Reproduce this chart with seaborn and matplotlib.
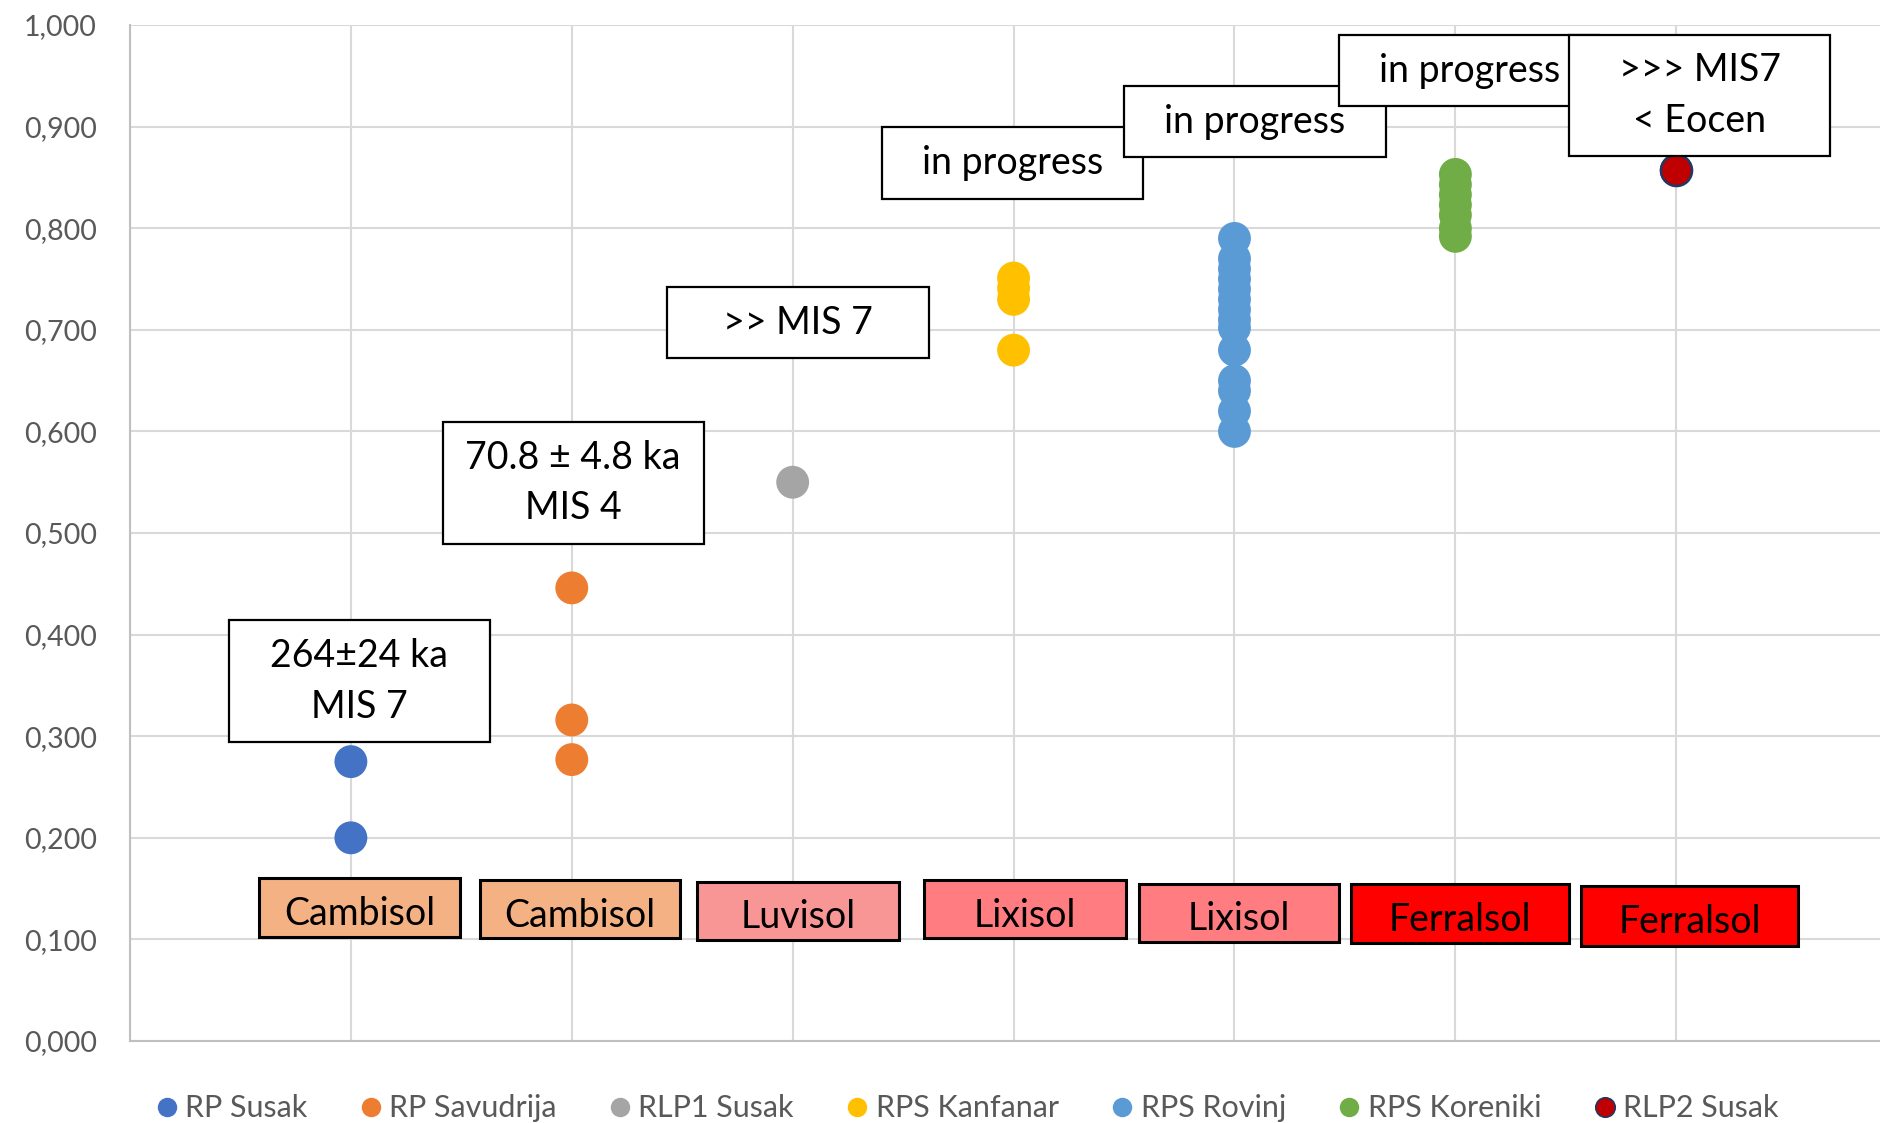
import matplotlib
matplotlib.use("Agg")
import matplotlib.pyplot as plt
from matplotlib.patches import Rectangle
from matplotlib.lines import Line2D
from matplotlib.ticker import FuncFormatter, MultipleLocator
import seaborn as sns
import pandas as pd

# Sites (one column each) and their measured values
series_names = ["RP Susak", "RP Savudrija", "RLP1 Susak", "RPS Kanfanar",
                "RPS Rovinj", "RPS Koreniki", "RLP2 Susak"]
rp_susak = [0.275, 0.200]
rp_savudrija = [0.446, 0.316, 0.277]
rlp1_susak = [0.550]
rps_kanfanar = [0.751, 0.741, 0.730, 0.680]
rps_rovinj = [0.790, 0.770, 0.760, 0.750, 0.740, 0.730, 0.720, 0.710, 0.702,
              0.680, 0.650, 0.640, 0.620, 0.600]
rps_koreniki = [0.853, 0.843, 0.833, 0.823, 0.813, 0.800, 0.792]
rlp2_susak = [0.857]
series_values = [rp_susak, rp_savudrija, rlp1_susak, rps_kanfanar,
                 rps_rovinj, rps_koreniki, rlp2_susak]

series_colors = ["#4472C4", "#ED7D31", "#A5A5A5", "#FFC000",
                 "#5B9BD5", "#70AD47", "#C00000"]

# Soil types under each site
soil_labels = ["Cambisol", "Cambisol", "Luvisol", "Lixisol", "Lixisol",
               "Ferralsol", "Ferralsol"]
soil_colors = ["#F4B183", "#F4B183", "#F89696", "#FF7C80", "#FF7C80",
               "#FF0000", "#FF0000"]

# Dating notes
age_notes = ["264±24 ka\nMIS 7", "70.8 ± 4.8 ka\nMIS 4", ">> MIS 7",
             "in progress", "in progress", "in progress", ">>> MIS7\n< Eocen"]

rows = []
for i, (name, vals) in enumerate(zip(series_names, series_values), start=1):
    for v in vals:
        rows.append({"site": i, "value": v, "series": name})
df = pd.DataFrame(rows)

sns.set_theme(style="whitegrid")
plt.rcParams["font.family"] = ["Lato", "DejaVu Sans"]

fig = plt.figure(figsize=(18.81, 11.23), dpi=100)
ax = fig.add_axes([0.0691, 0.073, 0.9395, 0.9047])

palette = dict(zip(series_names, series_colors))
sns.scatterplot(data=df, x="site", y="value", hue="series", palette=palette,
                hue_order=series_names, s=560, linewidth=0, ax=ax,
                legend=False, zorder=2)
sns.scatterplot(data=df[df["series"] == "RLP2 Susak"], x="site", y="value",
                color="#C00000", edgecolor="#1F3864", linewidth=1.8, s=500,
                ax=ax, legend=False, zorder=2)

ax.set_xlim(0, 8)
ax.set_ylim(0, 1.0)
ax.xaxis.set_major_locator(MultipleLocator(1))
ax.yaxis.set_major_locator(MultipleLocator(0.1))
ax.set_xticklabels([])
ax.yaxis.set_major_formatter(FuncFormatter(lambda v, p: f"{v:.3f}".replace(".", ",")))
ax.tick_params(axis="both", length=0)
ax.tick_params(axis="y", labelsize=20.5, labelcolor="#595959", pad=24)
ax.set_xlabel("")
ax.set_ylabel("")
ax.grid(True, color="#D9D9D9", linewidth=1.5)
ax.set_axisbelow(True)
for side in ["top", "right"]:
    ax.spines[side].set_visible(False)
for side in ["left", "bottom"]:
    ax.spines[side].set_color("#BFBFBF")
    ax.spines[side].set_linewidth(1.5)

# Annotation boxes (x0, x1, y0, y1 in data units)
note_boxes = [(0.448, 1.629, 0.294, 0.414),
              (1.416, 2.597, 0.489, 0.609),
              (2.430, 3.615, 0.672, 0.742),
              (3.403, 4.588, 0.829, 0.900),
              (4.498, 5.688, 0.870, 0.940),
              (5.475, 6.652, 0.920, 0.990),
              (6.516, 7.697, 0.871, 0.990)]
for (x0, x1, y0, y1), txt in zip(note_boxes, age_notes):
    ax.add_patch(Rectangle((x0, y0), x1 - x0, y1 - y0, facecolor="white",
                           edgecolor="black", linewidth=1.6, zorder=4,
                           clip_on=False))
    ax.text((x0 + x1) / 2, (y0 + y1) / 2, txt, ha="center", va="center",
            fontsize=27, color="black", linespacing=1.5, zorder=5)

soil_boxes = [(0.584, 1.493, 0.102, 0.160),
              (1.584, 2.489, 0.101, 0.158),
              (2.566, 3.480, 0.099, 0.157),
              (3.593, 4.507, 0.101, 0.158),
              (4.566, 5.475, 0.097, 0.155),
              (5.529, 6.516, 0.096, 0.155),
              (6.570, 7.552, 0.094, 0.153)]
for (x0, x1, y0, y1), txt, col in zip(soil_boxes, soil_labels, soil_colors):
    ax.add_patch(Rectangle((x0, y0), x1 - x0, y1 - y0, facecolor=col,
                           edgecolor="black", linewidth=2.2, zorder=4))
    ax.text((x0 + x1) / 2, (y0 + y1) / 2 - 0.006, txt, ha="center",
            va="center", fontsize=27, color="black", zorder=5)

# Legend along the bottom
handles = []
for name, col in zip(series_names, series_colors):
    edge = "#1F3864" if name == "RLP2 Susak" else col
    handles.append(Line2D([], [], linestyle="none", marker="o", markersize=14,
                          markerfacecolor=col, markeredgecolor=edge,
                          markeredgewidth=1.2 if name == "RLP2 Susak" else 0))
fig.legend(handles, series_names, loc="lower center", ncol=7,
           bbox_to_anchor=(0.513, -0.024), frameon=False, fontsize=22,
           labelcolor="#595959", handletextpad=0.1, columnspacing=1.58,
           handlelength=1.0)

fig.savefig("out.png", dpi=100)
